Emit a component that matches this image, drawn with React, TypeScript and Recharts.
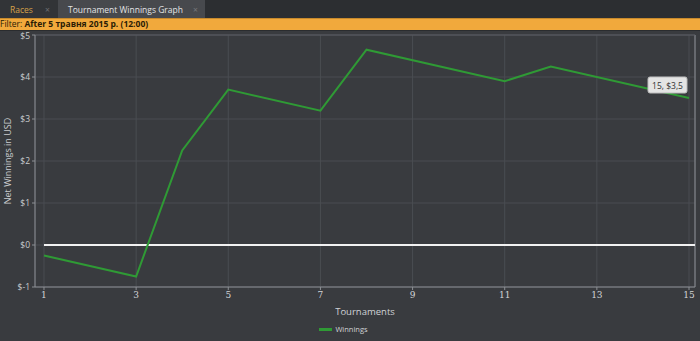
import {
  LineChart, Line, XAxis, YAxis, CartesianGrid, Legend, ReferenceLine, ReferenceDot,
} from 'recharts';

const TOURNAMENTS = [1, 3, 4, 5, 7, 8, 11, 12, 15];
const WINNINGS = [-0.25, -0.75, 2.25, 3.7, 3.2, 4.65, 3.9, 4.25, 3.5];
const X_TICKS = [1, 3, 5, 7, 9, 11, 13, 15];
const Y_TICKS = [-1, 0, 1, 2, 3, 4, 5];

const data = TOURNAMENTS.map((t, i) => ({ t, win: WINNINGS[i] }));

const BG = '#393b3f';
const GRID = '#4a4d52';
const AXIS = '#8c8f94';
const GREEN = '#2f9a35';
const FONT = '"Open Sans", "DejaVu Sans", sans-serif';

function YLabel({ viewBox }: any) {
  const x = viewBox.x + 7;
  const y = viewBox.y + viewBox.height / 2;
  return (
    <text x={x} y={y} transform={`rotate(-90 ${x} ${y})`} textAnchor="middle" dominantBaseline="central"
      fill="#c9cbce" fontSize={9} fontFamily={FONT}>
      Net Winnings in USD
    </text>
  );
}

function TipBox(props: any) {
  const { cx, cy } = props;
  if (cx == null) return null;
  return (
    <g>
      <rect x={cx - 41} y={cy - 21} width={39} height={16} rx={2} fill="#e4e4e4" stroke="#bdbdbd" />
      <text x={cx - 21.5} y={cy - 12.5} textAnchor="middle" dominantBaseline="central"
        fontSize={8.5} fill="#333" fontFamily={FONT}>15, $3,5</text>
    </g>
  );
}

function LegendContent() {
  return (
    <div style={{ display: 'flex', justifyContent: 'center', alignItems: 'center', height: 18, paddingRight: 8 }}>
      <span style={{ width: 13, height: 3, background: GREEN, marginRight: 3 }} />
      <span style={{ fontSize: 7.5, color: '#d0d2d5', fontFamily: FONT }}>Winnings</span>
    </div>
  );
}

export default function App() {
  return (
    <div style={{ width: 700, height: 341, background: BG, fontFamily: FONT, overflow: 'hidden' }}>
      <style>{`body{margin:0}`}</style>
      {/* tab strip */}
      <div style={{ height: 18, background: '#2c2e31', display: 'flex', fontSize: 8.5, whiteSpace: 'nowrap' }}>
        <div style={{ width: 58, background: '#323437', color: '#d6a248', display: 'flex', alignItems: 'center', paddingLeft: 10, boxSizing: 'border-box' }}>
          Races<span style={{ color: '#6d6f73', marginLeft: 12 }}>×</span>
        </div>
        <div style={{ width: 147, background: '#47494d', color: '#e2e3e5', display: 'flex', alignItems: 'center', paddingLeft: 10, boxSizing: 'border-box' }}>
          Tournament Winnings Graph<span style={{ color: '#75777b', marginLeft: 10 }}>×</span>
        </div>
      </div>
      {/* filter bar */}
      <div style={{ height: 13, background: '#f1a93c', borderTop: '1px solid #c88a2c', borderBottom: '1px solid #2a2c2f', boxSizing: 'border-box', fontSize: 8.5, color: '#2a1c05', display: 'flex', alignItems: 'center', lineHeight: 1, whiteSpace: 'nowrap' }}>
        Filter:&nbsp;<b>After 5 травня 2015 р. (12:00)</b>
      </div>
      <LineChart width={700} height={310} data={data} margin={{ top: 4, right: 5, left: 0, bottom: 3 }}>
        <CartesianGrid stroke={GRID} strokeWidth={1} />
        <XAxis dataKey="t" type="number" domain={[0.805, 15.13]} ticks={X_TICKS} allowDataOverflow
          stroke={AXIS} tickSize={3} height={33}
          tick={{ fontSize: 9, fill: '#d2d4d6', fontFamily: '"DejaVu Serif", serif' }}
          label={{ value: 'Tournaments', position: 'insideBottom', offset: 5, fontSize: 9.5, fill: '#d0d2d5', fontFamily: FONT }} />
        <YAxis type="number" domain={[-1, 5]} ticks={Y_TICKS} width={35} stroke={AXIS} tickSize={3}
          tickFormatter={(v: number) => `$${v}`}
          tick={{ fontSize: 8.5, fill: '#c9cbce', fontFamily: FONT }}
          label={<YLabel />} />
        <ReferenceLine segment={[{ x: 1, y: 0 }, { x: 15.13, y: 0 }]} stroke="#f2f2f2" strokeWidth={2} ifOverflow="visible" />
        <line x1={695} y1={4} x2={695} y2={256} stroke={AXIS} />
        <line x1={35} y1={4} x2={695} y2={4} stroke="#5a5d62" />
        <Line type="linear" dataKey="win" stroke={GREEN} strokeWidth={2} dot={false} activeDot={false} isAnimationActive={false} />
        <ReferenceDot x={15} y={3.5} r={0} shape={<TipBox />} ifOverflow="visible" />
        <Legend verticalAlign="bottom" height={18} content={<LegendContent />} />
      </LineChart>
    </div>
  );
}
